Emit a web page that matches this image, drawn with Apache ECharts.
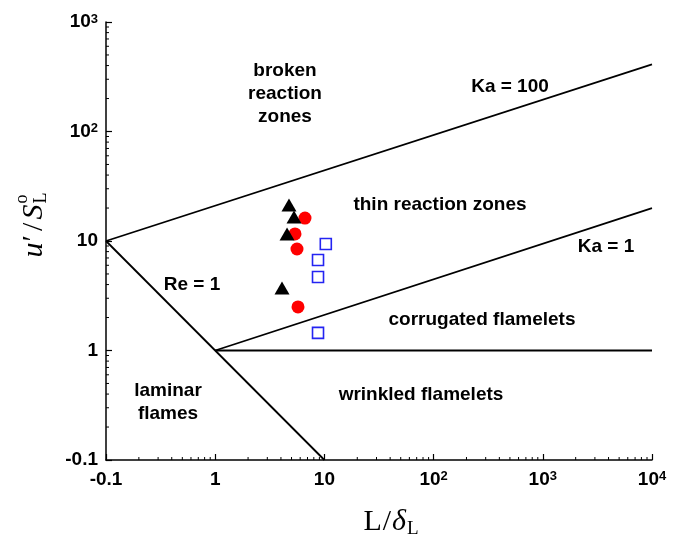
<!DOCTYPE html>
<html><head><meta charset="utf-8">
<script src="https://cdn.jsdelivr.net/npm/echarts@6/dist/echarts.min.js"></script>
<style>html,body{margin:0;padding:0;background:#fff}#c{width:674px;height:544px}</style>
</head><body><div id="c"></div>
<script>
// ---- data ----
const xTicks = [0.1, 1, 10, 100, 1000, 10000];
const xTickLabels = ['-0.1', '1', '10', '10^2', '10^3', '10^4'];
const yTicks = [0.1, 1, 10, 100, 1000];
const yTickLabels = ['-0.1', '1', '10', '10^2', '10^3'];

const lineKa100 = [[0.1, 10], [10000, 410]];
const lineKa1 = [[1, 1], [10000, 20]];
const lineFlamelet = [[1, 1], [10000, 1]];
const lineRe1 = [[0.1, 10], [10, 0.1]];

const circles = [[6.64, 16.2], [5.38, 11.6], [5.61, 8.45], [5.73, 2.5]];
const squares = [[10.3, 9.4], [8.74, 6.7], [8.74, 4.69], [8.74, 1.45]];
const triangles = [[4.74, 21.3], [5.27, 16.6], [4.55, 11.6], [4.09, 3.72]];

const minorMultipliers = [2, 3, 4, 5, 6, 7, 8, 9];

// ---- helpers ----
const SANS = '"Liberation Sans", Arial, sans-serif';
const SERIF = '"Liberation Serif", "DejaVu Serif", serif';
function makeMinor(ticks) {
  const out = [];
  for (let i = 0; i < ticks.length - 1; i++) minorMultipliers.forEach(m => out.push(ticks[i] * m));
  return out;
}
function tickFormatter(ticks, labels) {
  return function (v) {
    let idx = -1;
    ticks.forEach((t, i) => { if (Math.abs(Math.log10(t) - Math.log10(v)) < 1e-6) idx = i; });
    if (idx < 0) return '';
    const s = labels[idx];
    if (s.indexOf('^') >= 0) { const p = s.split('^'); return '{b|' + p[0] + '}{s|' + p[1] + '}'; }
    return '{b|' + s + '}';
  };
}
const labelRich = {
  b: { fontSize: 19, fontWeight: 'bold', fontFamily: SANS, color: '#000' },
  s: { fontSize: 13, fontWeight: 'bold', fontFamily: SANS, color: '#000', verticalAlign: 'top' }
};
const cv = document.createElement('canvas').getContext('2d');
function tw(text, font) { cv.font = font; return cv.measureText(text).width; }

const chart = echarts.init(document.getElementById('c'), null, { renderer: 'canvas' });

const minorStyle = { stroke: '#000', lineWidth: 1 };
const option = {
  animation: false,
  backgroundColor: '#fff',
  grid: { left: 106, right: 22, top: 22, bottom: 84 },
  xAxis: {
    type: 'log', logBase: 10, min: 0.1, max: 10000,
    axisLine: { lineStyle: { color: '#000', width: 1.5 } },
    axisTick: { inside: true, length: 6, lineStyle: { color: '#000', width: 1.2 } },
    splitLine: { show: false },
    axisLabel: { margin: 10, formatter: tickFormatter(xTicks, xTickLabels), rich: labelRich }
  },
  yAxis: {
    type: 'log', logBase: 10, min: 0.1, max: 1000,
    axisLine: { show: true, lineStyle: { color: '#000', width: 1.5 } },
    axisTick: { show: true, inside: true, length: 6, lineStyle: { color: '#000', width: 1.2 } },
    splitLine: { show: false },
    axisLabel: { margin: 8, formatter: tickFormatter(yTicks, yTickLabels), rich: labelRich }
  },
  series: [
    { type: 'line', data: lineKa100, symbol: 'none', lineStyle: { color: '#000', width: 1.8 }, z: 2 },
    { type: 'line', data: lineKa1, symbol: 'none', lineStyle: { color: '#000', width: 1.8 }, z: 2 },
    { type: 'line', data: lineFlamelet, symbol: 'none', lineStyle: { color: '#000', width: 1.8 }, z: 2 },
    { type: 'line', data: lineRe1, symbol: 'none', lineStyle: { color: '#000', width: 1.8 }, z: 2 },
    { type: 'scatter', data: circles, symbol: 'circle', symbolSize: 13, itemStyle: { color: '#ff0000', opacity: 1 }, z: 3 },
    { type: 'scatter', data: squares, symbol: 'rect', symbolSize: 11, itemStyle: { color: 'rgba(255,255,255,0)', borderColor: '#2424f2', borderWidth: 1.6, opacity: 1 }, z: 3 },
    { type: 'scatter', data: triangles, symbol: 'triangle', symbolSize: [15, 13], itemStyle: { color: '#000', opacity: 1 }, z: 4 },
    { type: 'custom', data: makeMinor(xTicks).map(v => [v, 0.1]), clip: false, z: 5,
      renderItem: function (params, api) {
        const p = api.coord([api.value(0), 0.1]);
        return { type: 'line', shape: { x1: p[0], y1: p[1], x2: p[0], y2: p[1] - 3 }, style: minorStyle };
      } },
    { type: 'custom', data: makeMinor(yTicks).map(v => [0.1, v]), clip: false, z: 5,
      renderItem: function (params, api) {
        const p = api.coord([0.1, api.value(1)]);
        return { type: 'line', shape: { x1: p[0], y1: p[1], x2: p[0] + 3, y2: p[1] }, style: minorStyle };
      } }
  ]
};

// ---- annotations ----
const annFont = { fontSize: 19, fontWeight: 'bold', fontFamily: SANS, fill: '#000', align: 'center', verticalAlign: 'middle' };
function ann(text, x, y) { return { type: 'text', x: x, y: y, z: 10, style: Object.assign({ text: text }, annFont) }; }
const graphics = [
  ann('broken', 285, 71), ann('reaction', 285, 94), ann('zones', 285, 117),
  ann('Ka = 100', 510, 87),
  ann('thin reaction zones', 440, 205),
  ann('Ka = 1', 606, 247),
  ann('corrugated flamelets', 482, 320),
  ann('wrinkled flamelets', 421, 395),
  ann('laminar', 168, 391), ann('flames', 168, 414),
  ann('Re = 1', 192, 285)
];

// axis titles built from pieces: [text, font, dy, noAdvance, extraGapAfter]
function pieces(list, x0, y0) {
  let x = x0; const out = [];
  list.forEach(p => {
    out.push({ type: 'text', x: x, y: y0 + (p[2] || 0), style: { text: p[0], font: p[1], fill: '#000', align: 'left', verticalAlign: 'middle' } });
    if (!p[3]) x += tw(p[0], p[1]) + (p[4] || 0);
  });
  return out;
}
function piecesWidth(list) { let w = 0; list.forEach(p => { if (!p[3]) w += tw(p[0], p[1]) + (p[4] || 0); }); return w; }

const big = '30px ' + SERIF, bigI = 'italic 30px ' + SERIF, small = '19px ' + SERIF;
// x title: L/δ_L
const xTitleParts = [['L', big, 0, false, 1], ['/', big, 0, false, 1], ['\u03B4', bigI, 0, false, 1], ['L', small, 7]];
graphics.push({ type: 'group', z: 10, children: pieces(xTitleParts, 391 - piecesWidth(xTitleParts) / 2, 522) });

// y title: u′/S_L^o (rotated)
const yBig = 'italic 30px ' + SERIF, yUp = '30px ' + SERIF, ySmall = '18px ' + SERIF;
const yParts = [['u', yBig, 0, false, 1], ['\u2032', yUp, 0, false, 4], ['/', yUp, 0, false, 3], ['S', yBig, 0, false, 1], ['o', ySmall, -12, true], ['L', ySmall, 7]];
const yW = piecesWidth(yParts);
graphics.push({ type: 'group', z: 10, x: 34, y: 225 + yW / 2, rotation: Math.PI / 2, children: pieces(yParts, 0, 0) });

option.graphic = graphics;
chart.setOption(option);
</script></body></html>
